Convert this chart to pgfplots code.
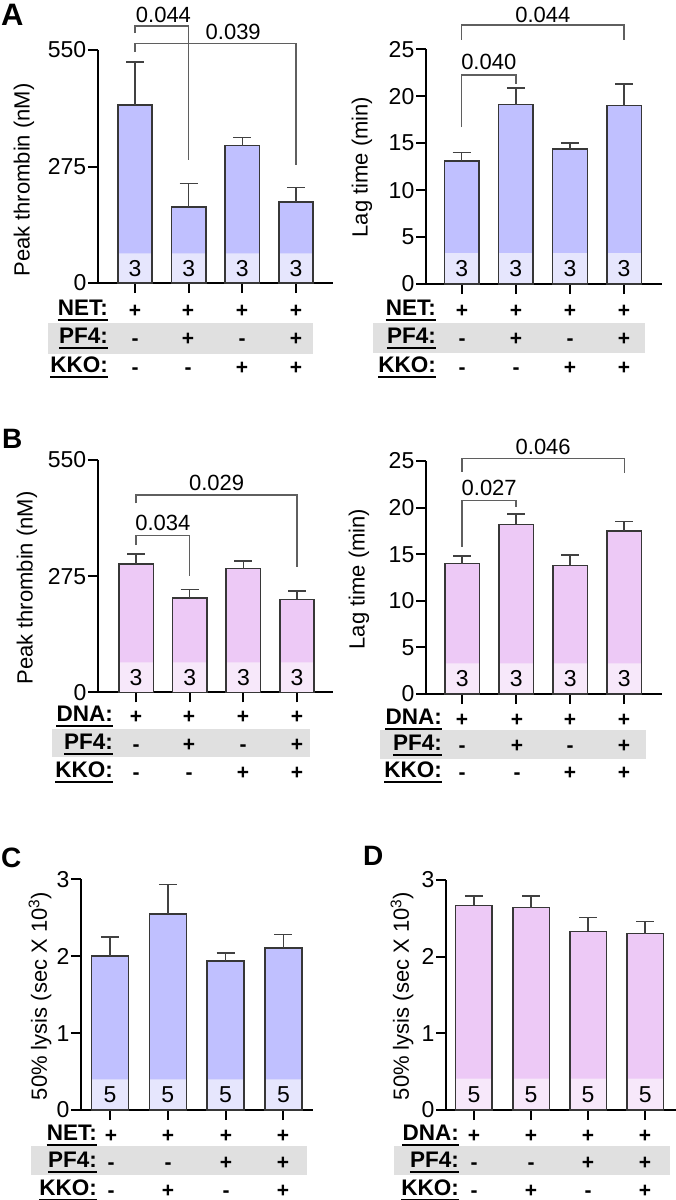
\documentclass[border=0pt]{standalone}
\usepackage{fontspec}
\setmainfont{Liberation Sans}
\usepackage{pgfplots}
\pgfplotsset{compat=1.18}
\newcommand\fs[1]{\fontsize{#1}{#1}\selectfont}
\definecolor{barA}{RGB}{192,192,255}
\definecolor{inA}{RGB}{230,230,253}
\definecolor{barB}{RGB}{237,201,246}
\definecolor{inB}{RGB}{247,232,250}
\definecolor{outl}{RGB}{55,55,55}
\definecolor{errc}{RGB}{65,65,65}
\definecolor{brkc}{RGB}{95,95,95}
\definecolor{band}{RGB}{224,224,224}
\pgfplotsset{
 panel/.style={scale only axis, anchor=south west, clip=false,
  axis x line*=bottom, axis y line*=left,
  axis line style={line width=2.2pt},
  tick align=outside, major tick length=10pt,
  every tick/.style={line width=2pt, black},
  xtick={0,1,2,3}, xticklabels={},
  ymin=0,
  yticklabel style={font=\fs{23}, inner sep=0pt, xshift=-1.5pt},
  /pgf/number format/assume math mode=true,
 },
 mbar/.style={ybar, bar width=0.64, bar shift=0pt, draw=none, fill=#1},
 obar/.style={ybar, bar width=0.64, bar shift=0pt, draw=outl, line width=1.5pt, fill=none,
   error bars/.cd, y dir=plus, y explicit,
   error bar style={line width=1.5pt, color=errc},
   error mark options={rotate=90, line width=1.5pt, color=errc, mark size=9pt}},
 brk/.style={color=brkc, line width=1.4pt, no marks},
}
\newcommand\trow[4]{%
  \node[anchor=base east, inner sep=0pt, font=\bfseries\fs{22.5}] (tl) at (#1pt,-#2pt) {#3};
  \draw[line width=2pt] ([yshift=-4.5pt]tl.base west) -- ([yshift=-4.5pt]tl.base east);
  \foreach \xx/\ss in {#4} {\node[anchor=base, inner sep=0pt, font=\bfseries\fs{21}] at (\xx pt,-#2pt-2pt) {\ss};}
}
\begin{document}
\begin{tikzpicture}
\useasboundingbox (0,0) rectangle (676pt,-1200pt);
% gray bands
\fill[band] (48pt,-323pt) rectangle (313pt,-354pt);
\fill[band] (373pt,-323pt) rectangle (645pt,-353pt);
\fill[band] (52pt,-729pt) rectangle (310pt,-757pt);
\fill[band] (380pt,-730pt) rectangle (646pt,-759pt);
\fill[band] (31pt,-1146pt) rectangle (307pt,-1175pt);
\fill[band] (394pt,-1146pt) rectangle (670pt,-1175pt);
% letters
\node[anchor=base west, inner sep=0pt, font=\bfseries\fs{31}] at (1pt,-25pt) {A};
\node[anchor=base west, inner sep=0pt, font=\bfseries\fs{28}] at (2pt,-448pt) {B};
\node[anchor=base west, inner sep=0pt, font=\bfseries\fs{28}] at (1pt,-867pt) {C};
\node[anchor=base west, inner sep=0pt, font=\bfseries\fs{28}] at (363pt,-865pt) {D};
% y labels
\node[rotate=90, font=\fs{22}] at (24pt,-180pt) {Peak thrombin (nM)};
\node[rotate=90, font=\fs{22}] at (362pt,-167pt) {Lag time (min)};
\node[rotate=90, font=\fs{22}] at (27pt,-588pt) {Peak thrombin (nM)};
\node[rotate=90, font=\fs{22}] at (359pt,-579pt) {Lag time (min)};
\node[rotate=90, font=\fs{22}] at (40pt,-996pt) {50\% lysis (sec X 10\textsuperscript{3})};
\node[rotate=90, font=\fs{22}] at (402pt,-996pt) {50\% lysis (sec X 10\textsuperscript{3})};

% ---------- A left
\begin{axis}[panel, at={(98pt,-283pt)}, width=235pt, height=233pt,
  xmin=-0.69, xmax=3.69, ymax=550, ytick={0,275,550}]
\addplot[mbar=barA] coordinates {(0,420) (1,180) (2,324) (3,191)};
\addplot[mbar=inA] coordinates {(0,70) (1,70) (2,70) (3,70)};
\addplot[obar] table[x=x,y=y,y error=e] {
x y e
0 420 102
1 180 55
2 324 20
3 191 35
};
\addplot[brk] coordinates {(0,590) (0,607) (1,607) (1,290)};
\addplot[brk] coordinates {(0,545) (0,566) (3,566) (3,278)};
\node[font=\fs{22}] at (axis cs:0.53,633) {0.044};
\node[font=\fs{22}] at (axis cs:1.83,592) {0.039};
\node[font=\fs{23}] at (axis cs:0,35) {3};
\node[font=\fs{23}] at (axis cs:1,35) {3};
\node[font=\fs{23}] at (axis cs:2,35) {3};
\node[font=\fs{23}] at (axis cs:3,35) {3};
\end{axis}
\trow{108}{315}{NET:}{135/+,188/+,242/+,296/+}
\trow{108}{343}{PF4:}{135/-,188/+,242/-,296/+}
\trow{108}{372}{KKO:}{135/-,188/-,242/+,296/+}

% ---------- A right
\begin{axis}[panel, at={(426pt,-284pt)}, width=236pt, height=234.7pt,
  xmin=-0.66, xmax=3.70, ymax=25, ytick={0,5,10,15,20,25}]
\addplot[mbar=barA] coordinates {(0,13.1) (1,19.1) (2,14.4) (3,19.0)};
\addplot[mbar=inA] coordinates {(0,3.3) (1,3.3) (2,3.3) (3,3.3)};
\addplot[obar] table[x=x,y=y,y error=e] {
x y e
0 13.1 0.9
1 19.1 1.8
2 14.4 0.6
3 19.0 2.3
};
\addplot[brk] coordinates {(0,16.7) (0,22.26) (1,22.26) (1,21.3)};
\addplot[brk] coordinates {(0,26.0) (0,27.59) (3,27.59) (3,26.0)};
\node[font=\fs{22}] at (axis cs:0.5,23.7) {0.040};
\node[font=\fs{22}] at (axis cs:1.5,28.7) {0.044};
\node[font=\fs{23}] at (axis cs:0,1.65) {3};
\node[font=\fs{23}] at (axis cs:1,1.65) {3};
\node[font=\fs{23}] at (axis cs:2,1.65) {3};
\node[font=\fs{23}] at (axis cs:3,1.65) {3};
\end{axis}
\trow{436}{315}{NET:}{462/+,516/+,570/+,624/+}
\trow{436}{343}{PF4:}{462/-,516/+,570/-,624/+}
\trow{436}{372}{KKO:}{462/-,516/-,570/+,624/+}

% ---------- B left
\begin{axis}[panel, at={(98pt,-692.3pt)}, width=235pt, height=232.3pt,
  xmin=-0.71, xmax=3.67, ymax=550, ytick={0,275,550}]
\addplot[mbar=barB] coordinates {(0,304) (1,223) (2,293) (3,220)};
\addplot[mbar=inB] coordinates {(0,71) (1,71) (2,71) (3,71)};
\addplot[obar] table[x=x,y=y,y error=e] {
x y e
0 304 23
1 223 20
2 293 18
3 220 20
};
\addplot[brk] coordinates {(0,348.7) (0,370.8) (1,370.8) (1,275.3)};
\addplot[brk] coordinates {(0,447.5) (0,467) (3,467) (3,297.4)};
\node[font=\fs{22}] at (axis cs:0.5,402) {0.034};
\node[font=\fs{22}] at (axis cs:1.5,496.7) {0.029};
\node[font=\fs{23}] at (axis cs:0,35.5) {3};
\node[font=\fs{23}] at (axis cs:1,35.5) {3};
\node[font=\fs{23}] at (axis cs:2,35.5) {3};
\node[font=\fs{23}] at (axis cs:3,35.5) {3};
\end{axis}
\trow{113}{721}{DNA:}{136/+,189/+,243/+,297/+}
\trow{113}{749}{PF4:}{136/-,189/+,243/-,297/+}
\trow{113}{777}{KKO:}{136/-,189/-,243/+,297/+}

% ---------- B right
\begin{axis}[panel, at={(426pt,-694pt)}, width=236pt, height=233pt,
  xmin=-0.67, xmax=3.70, ymax=25, ytick={0,5,10,15,20,25}]
\addplot[mbar=barB] coordinates {(0,14.0) (1,18.2) (2,13.8) (3,17.5)};
\addplot[mbar=inB] coordinates {(0,3.3) (1,3.3) (2,3.3) (3,3.3)};
\addplot[obar] table[x=x,y=y,y error=e] {
x y e
0 14.0 0.8
1 18.2 1.1
2 13.8 1.1
3 17.5 1.0
};
\addplot[brk] coordinates {(0,15.8) (0,20.74) (1,20.74) (1,20.03)};
\addplot[brk] coordinates {(0,23.85) (0,25.29) (3,25.29) (3,23.68)};
\node[font=\fs{22}] at (axis cs:0.5,22.16) {0.027};
\node[font=\fs{22}] at (axis cs:1.5,26.56) {0.046};
\node[font=\fs{23}] at (axis cs:0,1.65) {3};
\node[font=\fs{23}] at (axis cs:1,1.65) {3};
\node[font=\fs{23}] at (axis cs:2,1.65) {3};
\node[font=\fs{23}] at (axis cs:3,1.65) {3};
\end{axis}
\trow{442}{724}{DNA:}{462/+,517/+,570/+,624/+}
\trow{442}{750}{PF4:}{462/-,517/+,570/-,624/+}
\trow{442}{777}{KKO:}{462/-,517/-,570/+,624/+}

% ---------- C
\begin{axis}[panel, at={(81pt,-1110pt)}, width=232pt, height=230.7pt,
  xmin=-0.50, xmax=3.51, ymax=3, ytick={0,1,2,3}]
\addplot[mbar=barA] coordinates {(0,2.00) (1,2.55) (2,1.94) (3,2.11)};
\addplot[mbar=inA] coordinates {(0,0.40) (1,0.40) (2,0.40) (3,0.40)};
\addplot[obar] table[x=x,y=y,y error=e] {
x y e
0 2.00 0.25
1 2.55 0.38
2 1.94 0.10
3 2.11 0.17
};
\node[font=\fs{23}] at (axis cs:0,0.2) {5};
\node[font=\fs{23}] at (axis cs:1,0.2) {5};
\node[font=\fs{23}] at (axis cs:2,0.2) {5};
\node[font=\fs{23}] at (axis cs:3,0.2) {5};
\end{axis}
\trow{97}{1140}{NET:}{111/+,168/+,226/+,283/+}
\trow{97}{1167}{PF4:}{111/-,168/-,226/+,283/+}
\trow{97}{1195}{KKO:}{111/-,168/+,226/-,283/+}

% ---------- D
\begin{axis}[panel, at={(446pt,-1110pt)}, width=230pt, height=230pt,
  xmin=-0.49, xmax=3.54, ymax=3, ytick={0,1,2,3}]
\addplot[mbar=barB] coordinates {(0,2.67) (1,2.64) (2,2.33) (3,2.30)};
\addplot[mbar=inB] coordinates {(0,0.41) (1,0.41) (2,0.41) (3,0.41)};
\addplot[obar] table[x=x,y=y,y error=e] {
x y e
0 2.67 0.12
1 2.64 0.15
2 2.33 0.18
3 2.30 0.16
};
\node[font=\fs{23}] at (axis cs:0,0.205) {5};
\node[font=\fs{23}] at (axis cs:1,0.205) {5};
\node[font=\fs{23}] at (axis cs:2,0.205) {5};
\node[font=\fs{23}] at (axis cs:3,0.205) {5};
\end{axis}
\trow{459}{1140}{DNA:}{474/+,531/+,588/+,645/+}
\trow{459}{1167}{PF4:}{474/-,531/-,588/+,645/+}
\trow{459}{1195}{KKO:}{474/-,531/+,588/-,645/+}
\end{tikzpicture}
\end{document}
